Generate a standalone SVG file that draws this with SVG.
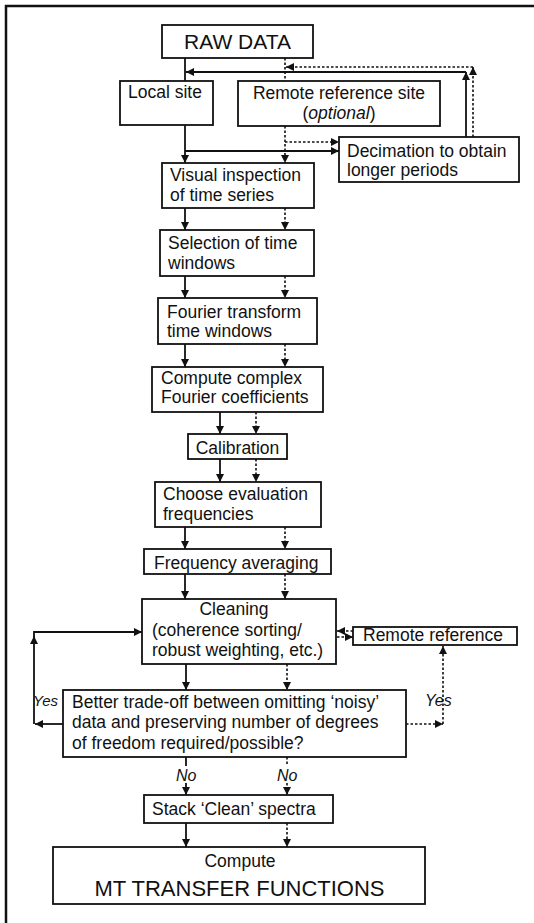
<svg xmlns="http://www.w3.org/2000/svg" width="534" height="923" viewBox="0 0 534 923">
<style>
.box{fill:#fff;stroke:#111;stroke-width:1.8}
.t{font-family:"Liberation Sans",Arial,sans-serif;font-size:17.5px;fill:#111}
.c{text-anchor:middle}
.e{text-anchor:end}
.i{font-style:italic}
.s{fill:none;stroke:#111;stroke-width:1.8}
.d{fill:none;stroke:#111;stroke-width:1.6;stroke-dasharray:2.5,2}
.frame{fill:none;stroke:#111;stroke-width:2.5}
</style>
<defs>
<marker id="ah" viewBox="0 0 10 10" refX="10" refY="5" markerWidth="8" markerHeight="8" markerUnits="userSpaceOnUse" orient="auto">
<path d="M0,0 L10,5 L0,10 Z" fill="#111"/>
</marker>
</defs>
<path class="frame" d="M6,923 V6 H534"/>

<g id="connectors">
<path class="s" d="M185,58 V81"/>
<path class="s" d="M466,137 V72" marker-end="url(#ah)"/>
<path class="s" d="M466,72 H186" marker-end="url(#ah)"/>
<path class="d" d="M285,58 V81"/>
<path class="d" d="M473,137 V67" marker-end="url(#ah)"/>
<path class="d" d="M473,67 H286" marker-end="url(#ah)"/>
<path class="s" d="M185,125 V163" marker-end="url(#ah)"/>
<path class="s" d="M185,151 H339" marker-end="url(#ah)"/>
<path class="d" d="M285,126 V163" marker-end="url(#ah)"/>
<path class="d" d="M285,142 H339" marker-end="url(#ah)"/>
<path class="s" d="M185,208 V230" marker-end="url(#ah)"/>
<path class="d" d="M285,208 V230" marker-end="url(#ah)"/>
<path class="s" d="M185,276 V298" marker-end="url(#ah)"/>
<path class="d" d="M285,276 V298" marker-end="url(#ah)"/>
<path class="s" d="M185,344 V367" marker-end="url(#ah)"/>
<path class="d" d="M285,344 V367" marker-end="url(#ah)"/>
<path class="s" d="M220,412 V434" marker-end="url(#ah)"/>
<path class="d" d="M256,412 V434" marker-end="url(#ah)"/>
<path class="s" d="M220,459 V482" marker-end="url(#ah)"/>
<path class="d" d="M256,459 V482" marker-end="url(#ah)"/>
<path class="s" d="M185,527 V549" marker-end="url(#ah)"/>
<path class="d" d="M285,527 V549" marker-end="url(#ah)"/>
<path class="s" d="M185,574 V599" marker-end="url(#ah)"/>
<path class="d" d="M285,574 V599" marker-end="url(#ah)"/>
<path class="s" d="M186,664 V690" marker-end="url(#ah)"/>
<path class="d" d="M287,664 V690" marker-end="url(#ah)"/>
<path class="d" d="M353,631 H337" marker-end="url(#ah)"/>
<path class="d" d="M337,637 H353" marker-end="url(#ah)"/>
<path class="s" d="M63,724 H35" marker-end="url(#ah)"/>
<path class="s" d="M34,724 V636" marker-end="url(#ah)"/>
<path class="s" d="M34,638 V632 H142" marker-end="url(#ah)"/>
<path class="d" d="M406,724 H443" marker-end="url(#ah)"/>
<path class="d" d="M443,724 V646" marker-end="url(#ah)"/>
<path class="s" d="M186,757 V766"/>
<path class="s" d="M186,783 V795" marker-end="url(#ah)"/>
<path class="d" d="M287,757 V766"/>
<path class="d" d="M287,783 V795" marker-end="url(#ah)"/>
<path class="s" d="M186,823 V847" marker-end="url(#ah)"/>
<path class="d" d="M287,823 V847" marker-end="url(#ah)"/>
<text class="t i e" x="58" y="706" style="font-size:15px">Yes</text>
<text class="t i" x="425" y="706" style="font-size:16px">Yes</text>
<text class="t i" x="176" y="781" style="font-size:16px">No</text>
<text class="t i" x="277" y="781" style="font-size:16px">No</text>
</g>

<g id="raw-data"><rect class="box" x="162" y="25" width="151" height="33"/><text class="t c" x="237.5" y="49" style="font-size:21px">RAW DATA</text></g>
<g id="local-site"><rect class="box" x="120" y="81" width="93" height="44"/><text class="t" x="128" y="98">Local site</text></g>
<g id="remote-site"><rect class="box" x="238" y="81" width="202" height="45"/><text class="t c" x="339" y="99">Remote reference site</text><text class="t c" x="339" y="119">(<tspan class="i">optional</tspan>)</text></g>
<g id="decimation"><rect class="box" x="339" y="137" width="180" height="45"/><text class="t" x="347" y="157">Decimation to obtain</text><text class="t" x="347" y="176">longer periods</text></g>
<g id="visual"><rect class="box" x="162" y="163" width="152" height="45"/><text class="t" x="170" y="181">Visual inspection</text><text class="t" x="170" y="201">of time series</text></g>
<g id="selection"><rect class="box" x="160" y="230" width="154" height="46"/><text class="t" x="168" y="249">Selection of time</text><text class="t" x="168" y="269">windows</text></g>
<g id="fourier"><rect class="box" x="158" y="298" width="159" height="46"/><text class="t" x="167" y="318">Fourier transform</text><text class="t" x="167" y="337">time windows</text></g>
<g id="complex"><rect class="box" x="152" y="367" width="171" height="45"/><text class="t" x="161" y="384">Compute complex</text><text class="t" x="161" y="403">Fourier coefficients</text></g>
<g id="calibration"><rect class="box" x="188" y="434" width="99" height="25"/><text class="t c" x="237.5" y="454">Calibration</text></g>
<g id="choose"><rect class="box" x="155" y="482" width="166" height="45"/><text class="t" x="163" y="500">Choose evaluation</text><text class="t" x="163" y="520">frequencies</text></g>
<g id="freq-avg"><rect class="box" x="144" y="549" width="187" height="25"/><text class="t" x="154" y="569">Frequency averaging</text></g>
<g id="cleaning"><rect class="box" x="142" y="599" width="194" height="65"/><text class="t c" x="234" y="615">Cleaning</text><text class="t" x="152" y="636">(coherence sorting/</text><text class="t" x="152" y="656">robust weighting, etc.)</text></g>
<g id="remote-ref"><rect class="box" x="353" y="627" width="164" height="18"/><text class="t" x="363" y="641">Remote reference</text></g>
<g id="decision"><rect class="box" x="63" y="690" width="343" height="67"/><text class="t" x="72" y="708">Better trade-off between omitting ‘noisy’</text><text class="t" x="72" y="728">data and preserving number of degrees</text><text class="t" x="72" y="749">of freedom required/possible?</text></g>
<g id="stack"><rect class="box" x="144" y="795" width="189" height="28"/><text class="t" x="152" y="815">Stack ‘Clean’ spectra</text></g>
<g id="mt"><rect class="box" x="53" y="847" width="372" height="57"/><text class="t c" x="240" y="867">Compute</text><text class="t c" x="239.5" y="896" style="font-size:22px">MT TRANSFER FUNCTIONS</text></g>
</svg>
